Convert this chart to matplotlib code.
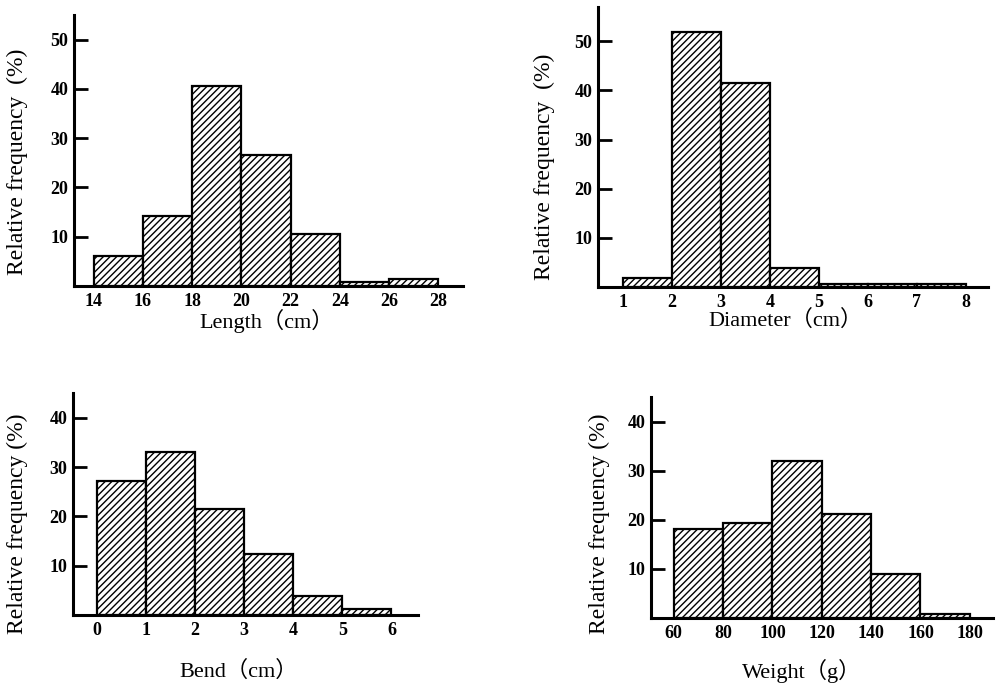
import numpy as np
from matplotlib import pyplot as plt

plt.rcParams['font.family'] = ['Liberation Serif', 'Noto Sans CJK JP', 'DejaVu Serif']
plt.rcParams['hatch.linewidth'] = 1.0

# relative frequency (%) per class
length_edges = [14, 16, 18, 20, 22, 24, 26, 28]
length_freq = [6.0, 14.3, 40.6, 26.5, 10.5, 0.8, 1.4]

diameter_edges = [1, 2, 3, 4, 5, 6, 7, 8]
diameter_freq = [1.9, 52.0, 41.6, 3.8, 0.6, 0.6, 0.6]

bend_edges = [0, 1, 2, 3, 4, 5, 6]
bend_freq = [27.1, 33.1, 21.4, 12.3, 3.8, 1.2]

weight_edges = [60, 80, 100, 120, 140, 160, 180]
weight_freq = [18.2, 19.3, 32.0, 21.1, 9.0, 0.8]

panels = [
    dict(rect=[0.0743, 0.5849, 0.3906, 0.3933], edges=length_edges, freq=length_freq,
         xlim=(13.2, 29.0), ylim=(0, 55), yticks=[10, 20, 30, 40, 50],
         xlabel='Length（cm）', ylabel='Relative frequency  (%)',
         xlab_pos=(0.495, -0.085), ylab_pos=(-0.118, 0.457)),
    dict(rect=[0.6004, 0.5835, 0.3916, 0.4064], edges=diameter_edges, freq=diameter_freq,
         xlim=(0.49, 8.45), ylim=(0, 57), yticks=[10, 20, 30, 40, 50],
         xlabel='Diameter（cm）', ylabel='Relative frequency  (%)',
         xlab_pos=(0.48, -0.08), ylab_pos=(-0.110, 0.429)),
    dict(rect=[0.0733, 0.1074, 0.3464, 0.3222], edges=bend_edges, freq=bend_freq,
         xlim=(-0.48, 6.54), ylim=(0, 45), yticks=[10, 20, 30, 40],
         xlabel='Bend（cm）', ylabel='Relative frequency (%)',
         xlab_pos=(0.48, -0.205), ylab_pos=(-0.130, 0.41)),
    dict(rect=[0.6536, 0.1030, 0.3434, 0.3208], edges=weight_edges, freq=weight_freq,
         xlim=(50.8, 189.4), ylim=(0, 45), yticks=[10, 20, 30, 40],
         xlabel='Weight（g）', ylabel='Relative frequency (%)',
         xlab_pos=(0.44, -0.185), ylab_pos=(-0.12, 0.425)),
]

fig = plt.figure(figsize=(9.96, 6.89), dpi=100)

for p in panels:
    ax = fig.add_axes(p['rect'])
    edges = np.array(p['edges'])
    ax.bar(edges[:-1], p['freq'], width=np.diff(edges), align='edge',
           facecolor='white', edgecolor='black', linewidth=1.6, hatch='/////')

    ax.set_xlim(*p['xlim'])
    ax.set_ylim(*p['ylim'])
    ax.set_xticks(edges)
    ax.set_xticklabels([str(e) for e in edges])
    ax.set_yticks(p['yticks'])

    for side in ['top', 'right']:
        ax.spines[side].set_visible(False)
    for side in ['left', 'bottom']:
        ax.spines[side].set_linewidth(2.2)

    ax.tick_params(axis='y', direction='in', length=10, width=2, pad=4, labelsize=13)
    ax.tick_params(axis='x', length=0, pad=5, labelsize=13)
    for lab in ax.get_xticklabels() + ax.get_yticklabels():
        lab.set_fontweight('bold')

    ax.set_xlabel(p['xlabel'], fontsize=16)
    ax.xaxis.set_label_coords(*p['xlab_pos'])
    ax.set_ylabel(p['ylabel'], fontsize=17)
    ax.yaxis.set_label_coords(*p['ylab_pos'])

fig.savefig('out.png', dpi=100)
plt.close()
